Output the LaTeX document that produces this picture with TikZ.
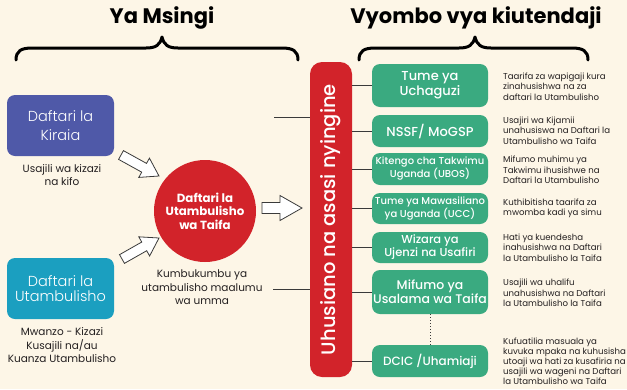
\documentclass[tikz,border=0pt]{standalone}
\usepackage{fontspec}
\setmainfont{Poppins}
\newfontfamily\popmed{Poppins Medium}
\newfontfamily\poplight{Poppins Light}
\usetikzlibrary{calc}
\definecolor{bg}{HTML}{FDF6E7}
\definecolor{kblue}{HTML}{4F59A8}
\definecolor{kcyan}{HTML}{1B9FC0}
\definecolor{kred}{HTML}{D2232A}
\definecolor{kgreen}{HTML}{3AAA80}
\definecolor{kline}{HTML}{3A3A3A}
\definecolor{ktext}{HTML}{231F20}
% #1 tail, #2 tip, #3 shaft half width, #4 head half width, #5 head length
\newcommand\hollowarrow[5]{%
  \coordinate (ha-n) at ($(#2)!#5!(#1)$);
  \draw[harrow] ($(#1)!#3!90:(#2)$) -- ($(ha-n)!#3!90:(#2)$) -- ($(ha-n)!#4!90:(#2)$) -- (#2)
    -- ($(ha-n)!#4!-90:(#2)$) -- ($(ha-n)!#3!-90:(#2)$) -- ($(#1)!#3!-90:(#2)$) -- cycle;}
\begin{document}
\begin{tikzpicture}[x=1pt,y=-1pt,
  titletext/.style={font=\bfseries\fontsize{21}{25}\selectfont, text=black},
  brace/.style={draw=black, line width=3pt, line cap=round, line join=round},
  lbox/.style={rounded corners=8pt, minimum width=107pt, minimum height=61pt, inner sep=0pt,
    align=center, text=white, font=\poplight\fontsize{14}{17}\selectfont},
  gbox/.style={fill=kgreen, rounded corners=8pt, minimum width=116pt, inner sep=0pt,
    align=center, text=white},
  captext/.style={align=center, text=ktext, font=\fontsize{10.5}{13.5}\selectfont, inner sep=0pt},
  desc/.style={anchor=west, align=left, text=ktext, font=\fontsize{8.6}{10.4}\selectfont, inner sep=0pt},
  conn/.style={draw=kline, line width=0.9pt},
  harrow/.style={draw=kline, fill=white, line width=0.8pt, line join=miter}]
\useasboundingbox[fill=bg] (0,0) rectangle (627,389);

% titles and braces
\node[titletext] (t1) at (162,18) {Ya Msingi};
\node[titletext] (t2) at (476,18) {Vyombo vya kiutendaji};
\draw[brace] (16,60) .. controls (16,51) and (21,48) .. (32,48) -- (146,48)
  .. controls (156,48) and (160,45) .. (162,37) .. controls (164,45) and (168,48) .. (178,48)
  -- (282,48) .. controls (293,48) and (298,51) .. (298,60);
\draw[brace] (359,60) .. controls (359,51) and (364,48) .. (375,48) -- (459,48)
  .. controls (469,48) and (473,45) .. (475,37) .. controls (477,45) and (481,48) .. (491,48)
  -- (572,48) .. controls (583,48) and (588,51) .. (588,60);

% left column
\node[lbox, fill=kblue, font=\poplight\fontsize{14.5}{19}\selectfont] (kiraia) at (60.5,125.5) {Daftari la\\Kiraia};
\node[captext] (kiraiacap) at (62,175) {Usajili wa kizazi\\na kifo};
\node[lbox, fill=kcyan, font=\poplight\fontsize{14.5}{15.5}\selectfont] (utamb) at (60.5,288.5) {Daftari la\\Utambulisho};
\node[captext] (utambcap) at (62,345.5) {Mwanzo - Kizazi\\Kusajili na/au\\Kuanza Utambulisho};

% central circle
\node[circle, fill=kred, minimum size=102pt, inner sep=0pt, align=center, text=white,
  font=\bfseries\fontsize{11.8}{13.5}\selectfont] (ndi) at (205,211) {Daftari la\\Utambulisho\\wa Taifa};
\node[captext] (ndicap) at (202,287.5) {Kumbukumbu ya\\utambulisho maalumu\\wa umma};

% red bar
\node[fill=kred, rounded corners=12pt, minimum width=42pt, minimum height=315pt, inner sep=0pt] (bar) at (331,219.5) {};
\node[rotate=90, text=white, font=\popmed\fontsize{19.5}{22}\selectfont, inner sep=0pt] (bartext) at (bar.center) {Uhusiano na asasi nyingine};

% hollow arrows
\coordinate (a1t) at (121,155); \coordinate (a1h) at (159,176);
\coordinate (a2t) at (122,259); \coordinate (a2h) at (159,238);
\coordinate (a3t) at (262,208); \coordinate (a3h) at (302,208);
\hollowarrow{a1t}{a1h}{5pt}{11pt}{17pt}
\hollowarrow{a2t}{a2h}{5pt}{11pt}{17pt}
\hollowarrow{a3t}{a3h}{5.5pt}{12.5pt}{22pt}

% lines to bar from the left
\coordinate (l1) at (274,117);
\coordinate (l2) at (273,289);
\draw[conn] (l1) -- (l1 -| bar.west);
\draw[conn] (l2) -- (l2 -| bar.west);

% green boxes
\node[gbox, minimum height=43pt, font=\popmed\fontsize{13}{15}\selectfont] (g1) at (430,85.5) {Tume ya\\Uchaguzi};
\node[gbox, minimum height=32pt, font=\popmed\fontsize{13}{15}\selectfont] (g2) at (430,131) {NSSF/ MoGSP};
\node[gbox, minimum height=32pt, font=\popmed\fontsize{10}{13}\selectfont] (g3) at (430,169) {Kitengo cha Takwimu\\Uganda (UBOS)};
\node[gbox, minimum height=31pt, font=\popmed\fontsize{10}{12.5}\selectfont] (g4) at (430,208.5) {Tume ya Mawasiliano\\ya Uganda (UCC)};
\node[gbox, minimum height=31pt, font=\popmed\fontsize{11.5}{13}\selectfont] (g5) at (430,247.5) {Wizara ya\\Ujenzi na Usafiri};
\node[gbox, minimum height=44pt, font=\popmed\fontsize{12.5}{14}\selectfont] (g6) at (430,292) {Mifumo ya\\Usalama wa Taifa};
\node[gbox, minimum height=32pt, font=\popmed\fontsize{12}{14}\selectfont] (g7) at (430,361) {DCIC /Uhamiaji};
\foreach \i in {1,...,7} \draw[conn] (bar.east |- g\i.west) -- (g\i.west);
\draw[kline, line width=1pt, dotted] (g6.south) -- (g7.north);

% descriptions
\node[desc] (d1) at (503,86.5) {Taarifa za wapigaji kura\\zinahusishwa na za\\daftari la Utambulisho};
\node[desc] (d2) at (503,130.5) {Usajiri wa Kijamii\\unahusiswa na Daftari la\\Utambulisho wa Taifa};
\node[desc] (d3) at (503,170) {Mifumo muhimu ya\\Takwimu ihusishwe na\\Daftari la Utambulisho};
\node[desc] (d4) at (503,208.5) {Kuthibitisha taarifa za\\mwomba kadi ya simu};
\node[desc] (d5) at (503,247.5) {Hati ya kuendesha\\inahusishwa na Daftari\\la Utambulisho la Taifa};
\node[desc] (d6) at (503,293) {Usajili wa uhalifu\\unahusishwa na Daftari\\la Utambulisho la Taifa};
\node[desc, font=\fontsize{8.6}{10}\selectfont] (d7) at (503,361) {Kufuatilia masuala ya\\kuvuka mpaka na kuhusisha\\utoaji wa hati za kusafiria na\\usajili wa wageni na Daftari\\la Utambulisho wa Taifa};
\end{tikzpicture}
\end{document}
